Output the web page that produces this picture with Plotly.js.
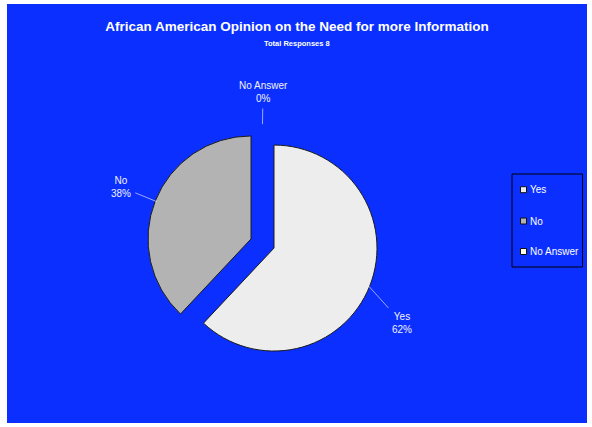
<!DOCTYPE html>
<html>
<head>
<meta charset="utf-8">
<script src="https://cdn.plot.ly/plotly-3.0.1.min.js"></script>
<style>
html, body { margin: 0; padding: 0; background: #ffffff; width: 592px; height: 427px; overflow: hidden; }
#chart { position: absolute; left: 7px; top: 4px; width: 580px; height: 419px; }
</style>
</head>
<body>
<div id="chart"></div>
<script>
// ---- data ----
var labels = ["Yes", "No", "No Answer"];
var values = [62, 38, 0];          // percent of responses
var sliceColors = ["#EDEDED", "#B3B3B3", "#FFFFE6"];
var chartTitle = "African American Opinion on the Need for more Information";
var chartSubtitle = "Total Responses 8";

// ---- layout constants (pixels inside the chart div) ----
var W = 580, H = 419;
var cx = 255.5, cy = 239.5, R = 103, PULL = 0.12;
var half = R * (1 + PULL);
var domX = [(cx - half) / W, (cx + half) / W];
var domY = [1 - (cy + half) / H, 1 - (cy - half) / H];

// label text centres (pixels inside div), per slice
var labelPos = [[395, 319], [114, 183], [256, 88]];

var total = values.reduce(function (a, b) { return a + b; }, 0);
var annotations = [];
var shapes = [];

// slice labels with leader lines, anchored on each slice's computed edge
var start = 0;
values.forEach(function (v, i) {
  var frac = v / total;
  var mid = (start + frac / 2) * 2 * Math.PI;   // clockwise from 12 o'clock
  start += frac;
  var pcx = cx + R * PULL * Math.sin(mid);
  var pcy = cy - R * PULL * Math.cos(mid);
  var er = (v === 0) ? R + 4 : R - 2;
  var ex = pcx + er * Math.sin(mid);
  var ey = pcy - er * Math.cos(mid);
  annotations.push({
    xref: "paper", yref: "paper",
    x: ex / W, y: 1 - ey / H,
    ax: labelPos[i][0] - ex, ay: labelPos[i][1] - ey,
    axref: "pixel", ayref: "pixel",
    showarrow: true, arrowhead: 0, arrowwidth: 0.7, arrowcolor: "#D8DCFF",
    standoff: 0, startstandoff: 3,
    text: labels[i] + "<br>" + v + "%",
    align: "center",
    font: { family: "Liberation Sans, Arial, sans-serif", size: 10, color: "#F2F2FF" }
  });
});

// subtitle
annotations.push({
  xref: "paper", yref: "paper", x: 0.5, y: 1 - 40 / H,
  xanchor: "center", yanchor: "middle", showarrow: false,
  text: "<b>" + chartSubtitle + "</b>",
  font: { family: "Liberation Sans, Arial, sans-serif", size: 7.5, color: "#FFFFFF" }
});

// legend (box, swatches, labels)
var lgX0 = 505, lgX1 = 575.5, lgY0 = 170, lgY1 = 263;
shapes.push({
  type: "rect", xref: "paper", yref: "paper",
  x0: lgX0 / W, x1: lgX1 / W, y0: 1 - lgY1 / H, y1: 1 - lgY0 / H,
  line: { color: "#000000", width: 1 }, fillcolor: "rgba(0,0,0,0)"
});
var rowY = [185.7, 217, 247.5];
labels.forEach(function (lab, i) {
  shapes.push({
    type: "rect", xref: "paper", yref: "paper",
    x0: 513.5 / W, x1: 519.5 / W, y0: 1 - (rowY[i] + 3) / H, y1: 1 - (rowY[i] - 3) / H,
    line: { color: "#111111", width: 1 }, fillcolor: sliceColors[i]
  });
  annotations.push({
    xref: "paper", yref: "paper", x: 521 / W, y: 1 - rowY[i] / H,
    xanchor: "left", yanchor: "middle", showarrow: false,
    text: lab,
    font: { family: "Liberation Sans, Arial, sans-serif", size: 10, color: "#FFFFFF" }
  });
});

var trace = {
  type: "pie",
  labels: labels,
  values: values,
  sort: false,
  direction: "clockwise",
  rotation: 0,
  pull: values.map(function () { return PULL; }),
  textinfo: "none",
  hoverinfo: "label+percent",
  showlegend: false,
  domain: { x: domX, y: domY },
  marker: {
    colors: sliceColors,
    line: { color: "#1a1a1a", width: values.map(function (v) { return v > 0 ? 1 : 0; }) }
  }
};

var layout = {
  width: W, height: H,
  margin: { l: 0, r: 0, t: 0, b: 0 },
  paper_bgcolor: "#0A2FFF",
  showlegend: false,
  title: {
    text: "<b>" + chartTitle + "</b>",
    x: 0.5, xanchor: "center",
    y: 1 - 22 / H, yanchor: "middle",
    font: { family: "Liberation Sans, Arial, sans-serif", size: 13.5, color: "#FFFFFF" }
  },
  annotations: annotations,
  shapes: shapes
};

Plotly.newPlot("chart", [trace], layout, { displayModeBar: false, staticPlot: true });
</script>
</body>
</html>
